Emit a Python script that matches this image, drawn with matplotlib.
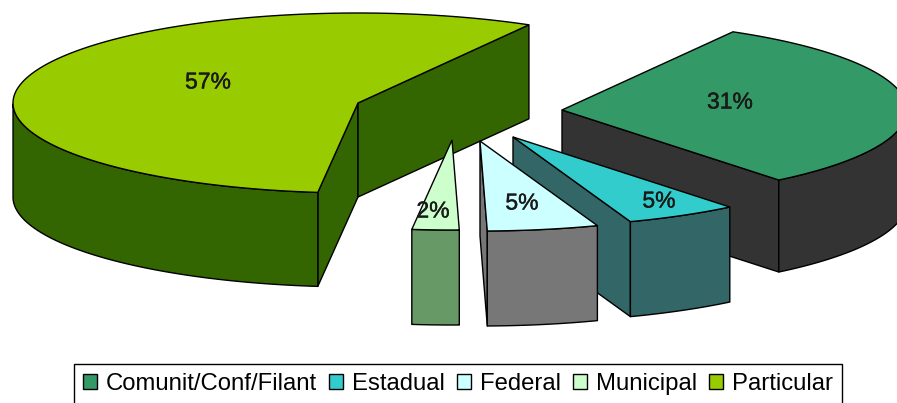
import numpy as np
import matplotlib
matplotlib.use("Agg")
import matplotlib.pyplot as plt
import matplotlib.patches as patches
import matplotlib.patheffects as pe

plt.rcParams['font.family'] = ['Liberation Sans', 'DejaVu Sans']

categorias = ['Comunit/Conf/Filant', 'Estadual', 'Federal', 'Municipal', 'Particular']
valores = [31.0, 5.3, 5.2, 2.2, 56.51]
cor_topo = ['#339966', '#33CCCC', '#CCFFFF', '#CCFFCC', '#99CC00']
cor_lado = ['#333333', '#336666', '#777777', '#669966', '#336600']

# vertice de cada fatia na figura (explodido) e altura do lado
centros = [(562, 110), (513, 137), (480, 141), (452, 140), (358, 103)]
alturas = [92, 95, 95, 95, 94]
rotulos = [(730, 102), (659, 201), (522, 203), (433, 211), (208, 82)]
ordem = [4, 0, 1, 2, 3]

rot = 29.7
a = 345
b = 90


def ponto(c, ang):
    r = np.radians(ang)
    return c[0] + a * np.sin(r), c[1] - b * np.cos(r)


fig = plt.figure(figsize=(8.97, 4.03), dpi=100)
ax = fig.add_axes([0, 0, 1, 1])
ax.set_xlim(0, 897)
ax.set_ylim(403, 0)
ax.axis('off')

# angulos das fatias, sentido horario a partir do topo
fim = rot + np.cumsum(valores) / np.sum(valores) * 360
ini = fim - np.array(valores) / np.sum(valores) * 360

for i in ordem:
    c = centros[i]
    h = alturas[i]
    t0, t1 = ini[i], fim[i]
    lado = dict(facecolor=cor_lado[i], edgecolor='black', linewidth=1.0, joinstyle='round')

    # faces internas
    for t, vis in ((t0, np.sin(np.radians(t0)) < 0), (t1, np.sin(np.radians(t1)) > 0)):
        if vis:
            x, y = ponto(c, t)
            ax.add_patch(patches.Polygon([c, (x, y), (x, y + h), (c[0], c[1] + h)], **lado))

    # parede externa, so a parte da frente
    angs = np.linspace(t0, t1, 200)
    angs = angs[np.cos(np.radians(angs)) < 0]
    x, y = ponto(c, angs)
    ax.add_patch(patches.Polygon(np.r_[np.c_[x, y], np.c_[x, y + h][::-1]], **lado))

    # topo
    angs = np.linspace(t0, t1, 200)
    x, y = ponto(c, angs)
    ax.add_patch(patches.Polygon(np.r_[[c], np.c_[x, y]], facecolor=cor_topo[i],
                                 edgecolor='black', linewidth=1.0))

    ax.text(rotulos[i][0], rotulos[i][1], f'{valores[i]:.0f}%', ha='center', va='center',
            fontsize=16.5, color='#1a1a1a',
            path_effects=[pe.withStroke(linewidth=0.3, foreground='#1a1a1a')])

handles = [patches.Patch(facecolor=cor_topo[i], edgecolor='black', linewidth=1.0) for i in range(5)]
leg = ax.legend(handles, categorias, ncols=5, loc='upper left', bbox_to_anchor=(74 / 897, 1 - 363.5 / 403),
                fontsize=17.2, frameon=True, fancybox=False, framealpha=1, edgecolor='black',
                handlelength=0.58, handleheight=0.58, handletextpad=0.38, columnspacing=0.5,
                borderaxespad=0, borderpad=0.38)
leg.get_frame().set_linewidth(1.0)

fig.savefig('out.png', dpi=100)
